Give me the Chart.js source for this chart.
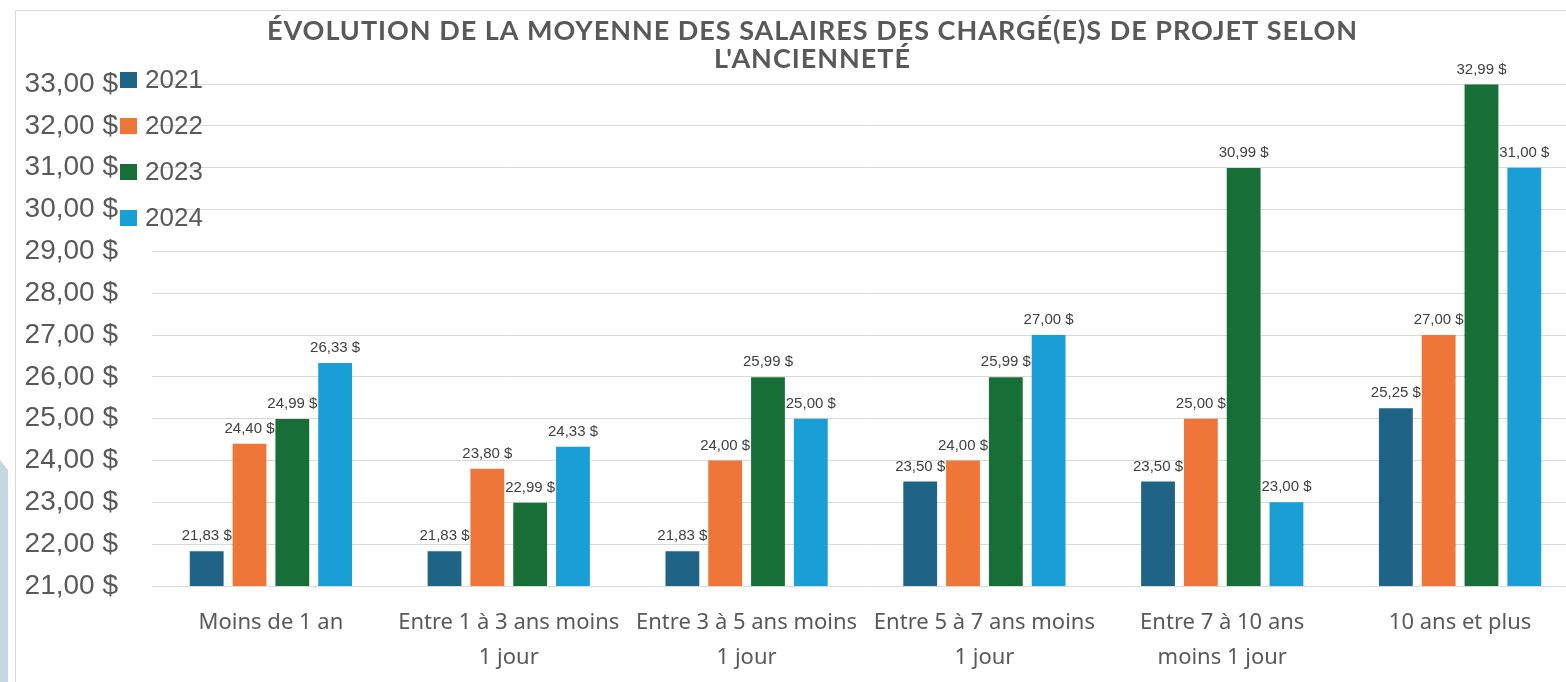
<!DOCTYPE html>
<html>
<head>
<meta charset="utf-8">
<script src="https://cdn.jsdelivr.net/npm/chart.js@4/dist/chart.umd.min.js"></script>
<style>
  html, body { margin: 0; padding: 0; background: #ffffff; overflow: hidden; width: 1566px; height: 682px; }
  #wrap { position: absolute; left: 0; top: 0; width: 1580px; height: 682px; }
  #frame { position: absolute; left: 15px; top: 10px; width: 1600px; height: 700px; border-left: 1px solid #d9d9d9; border-top: 1px solid #d9d9d9; pointer-events: none; }
  #band { position: absolute; left: 0; top: 460px; width: 8px; height: 222px; background: #c4d7e1; clip-path: polygon(0 0, 100% 10px, 100% 100%, 0 100%); }
</style>
</head>
<body>
<div id="band"></div>
<div id="frame"></div>
<div id="wrap"><canvas id="c" width="1580" height="682"></canvas></div>
<script>
const titleLines = ["ÉVOLUTION DE LA MOYENNE DES SALAIRES DES CHARGÉ(E)S DE PROJET SELON", "L'ANCIENNETÉ"];
const categories = [
  "Moins de 1 an",
  ["Entre 1 à 3 ans moins", "1 jour"],
  ["Entre 3 à 5 ans moins", "1 jour"],
  ["Entre 5 à 7 ans moins", "1 jour"],
  ["Entre 7 à 10 ans", "moins 1 jour"],
  "10 ans et plus"
];
const seriesNames = ["2021", "2022", "2023", "2024"];
const values2021 = [21.83, 21.83, 21.83, 23.50, 23.50, 25.25];
const values2022 = [24.40, 23.80, 24.00, 24.00, 25.00, 27.00];
const values2023 = [24.99, 22.99, 25.99, 25.99, 30.99, 32.99];
const values2024 = [26.33, 24.33, 25.00, 27.00, 23.00, 31.00];
const seriesColors = ["#1f6487", "#ee7639", "#176f37", "#199fd6"];
const yMin = 21, yMax = 33, yStep = 1;

function fmt(v) { return v.toFixed(2).replace('.', ',') + ' $'; }

const allValues = [values2021, values2022, values2023, values2024];

const titlePlugin = {
  id: 'titlePlugin',
  afterDraw(chart) {
    const ctx = chart.ctx;
    ctx.save();
    ctx.fillStyle = '#595959';
    ctx.textAlign = 'center';
    ctx.textBaseline = 'middle';
    ctx.font = 'bold 27px Lato';
    ctx.letterSpacing = '0px';
    const w0 = ctx.measureText(titleLines[0]).width;
    const ls = (1091 - w0) / titleLines[0].length;
    ctx.letterSpacing = ls + 'px';
    ctx.fillText(titleLines[0], 812 + ls / 2, 31);
    ctx.fillText(titleLines[1], 812 + ls / 2, 59);
    ctx.restore();
  }
};

const legendPlugin = {
  id: 'legendPlugin',
  afterDraw(chart) {
    const ctx = chart.ctx;
    ctx.save();
    ctx.font = '26px "Liberation Sans", Arial, sans-serif';
    ctx.textBaseline = 'middle';
    ctx.textAlign = 'left';
    const ys = [80, 126, 172, 218];
    chart.data.datasets.forEach((ds, i) => {
      ctx.fillStyle = ds.backgroundColor;
      ctx.fillRect(120, ys[i] - 8, 17, 16);
      ctx.fillStyle = '#595959';
      ctx.fillText(ds.label, 145, ys[i] + 1);
    });
    ctx.restore();
  }
};

const labelPlugin = {
  id: 'labelPlugin',
  afterDatasetsDraw(chart) {
    const ctx = chart.ctx;
    ctx.save();
    ctx.font = '15px "Liberation Sans", Arial, sans-serif';
    ctx.fillStyle = '#404040';
    ctx.textAlign = 'center';
    ctx.textBaseline = 'middle';
    chart.data.datasets.forEach((ds, di) => {
      const meta = chart.getDatasetMeta(di);
      meta.data.forEach((el, i) => {
        ctx.fillText(fmt(ds.data[i]), el.x, el.y - 15);
      });
    });
    ctx.restore();
  }
};

new Chart(document.getElementById('c'), {
  type: 'bar',
  data: {
    labels: categories,
    datasets: seriesNames.map((n, i) => ({
      label: n,
      data: allValues[i],
      backgroundColor: seriesColors[i],
      borderWidth: 0,
      categoryPercentage: 0.72,
      barPercentage: 0.79
    }))
  },
  options: {
    responsive: false,
    animation: false,
    events: [],
    layout: { padding: { left: 15, top: 84, right: 1, bottom: 10 } },
    plugins: { legend: { display: false }, title: { display: false }, tooltip: { enabled: false } },
    scales: {
      x: {
        afterFit(scale) { scale.height = 86; },
        grid: { display: false },
        border: { display: false },
        ticks: {
          color: '#595959',
          font: { family: '"Noto Sans"', size: 22, lineHeight: 1.6 },
          padding: 11,
          maxRotation: 0,
          autoSkip: false
        }
      },
      y: {
        min: yMin, max: yMax,
        afterFit(scale) { scale.width = 137; },
        grid: { color: '#d9d9d9', lineWidth: 1, drawTicks: false },
        border: { display: false },
        ticks: {
          stepSize: yStep,
          color: '#595959',
          padding: 34,
          font: { family: '"Liberation Sans", Arial, sans-serif', size: 28 },
          callback: (v) => fmt(v)
        }
      }
    }
  },
  plugins: [titlePlugin, legendPlugin, labelPlugin]
});
</script>
</body>
</html>
